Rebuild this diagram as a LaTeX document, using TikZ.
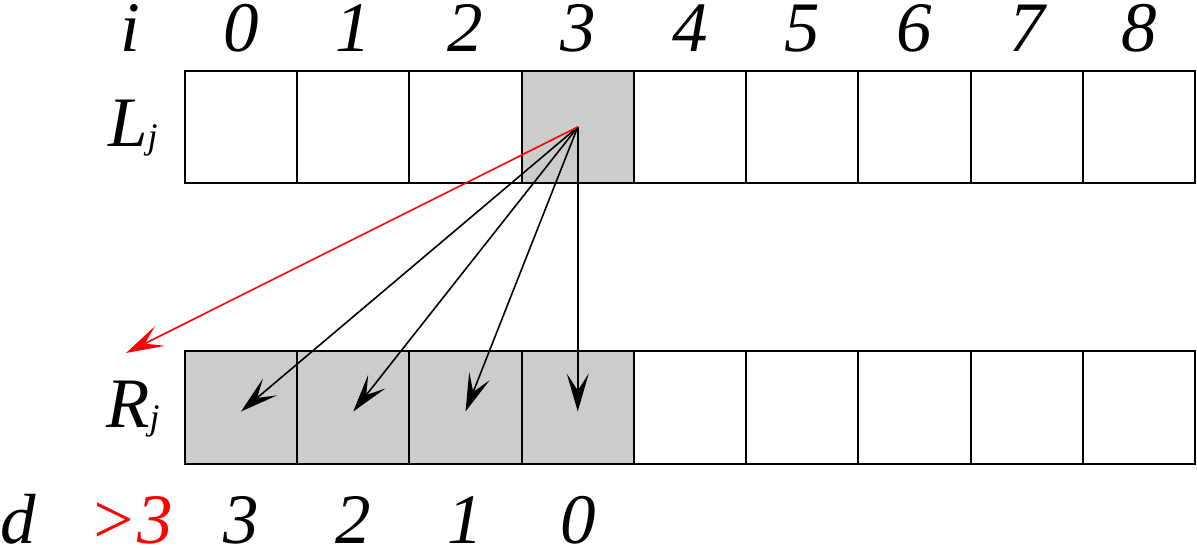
\documentclass[tikz,border=0pt]{standalone}
\usepackage{fontspec}
\setmainfont{Liberation Serif}
\usetikzlibrary{arrows.meta}
\newcommand\subj[1]{\raisebox{-2pt}{\fontsize{36}{36}\selectfont #1}}

\begin{document}
\begin{tikzpicture}[
  x=1pt, y=-1pt,
  cell/.style={draw, line width=2.2pt, minimum width=112.25pt, minimum height=112.5pt, inner sep=0pt},
  hit/.style={cell, fill=gray!40},
  lbl/.style={anchor=base, inner sep=0pt, font=\fontsize{71}{71}\selectfont\itshape},
  line/.style={-{Stealth[length=38pt, width=22pt, inset=17pt]}, line width=1.6pt}
]
\useasboundingbox (0,0) rectangle (1197,548);

\foreach \k in {0,...,8} {
  \node[cell] (L\k) at ({241+112.25*\k},127) {};
  \node[cell] (R\k) at ({241+112.25*\k},407.5) {};
  \node[lbl] (i\k) at ({241+112.25*\k},52) {\k};
}
\node[hit] (L3) at (577.75,127) {};
\foreach \k in {0,...,3} {
  \node[hit] (R\k) at ({241+112.25*\k},407.5) {};
}

\node[lbl] (ilab) at (130,52) {i};
\node[lbl] (Llab) at (133,147) {L\subj{j}};
\node[lbl] (Rlab) at (133,427) {R\subj{j}};
\node[lbl] (dlab) at (18,543) {d};
\node[lbl, text=red] (dfar) at (131,543) {>3};
\node[lbl] (d3) at (241,543) {3};
\node[lbl] (d2) at (353.25,543) {2};
\node[lbl] (d1) at (465.5,543) {1};
\node[lbl] (d0) at (577.75,543) {0};

\coordinate (far) at (126,353);

\draw[line] (L3.center) -- ([yshift=-4pt]R0.center);
\draw[line] (L3.center) -- ([yshift=-4pt]R1.center);
\draw[line] (L3.center) -- ([yshift=-4pt]R2.center);
\draw[line] (L3.center) -- ([yshift=-4pt]R3.center);
\draw[line, red] (L3.center) -- (far);
\end{tikzpicture}
\end{document}
